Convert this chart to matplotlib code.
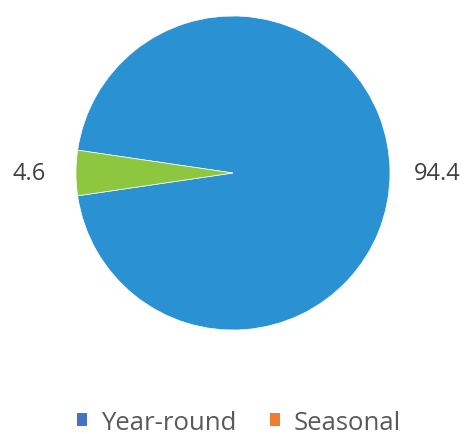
import matplotlib.pyplot as plt
from matplotlib.patches import Patch

# slice values (percent)
values = [94.4, 4.6]
slice_colors = ["#2A91D3", "#8DC63F"]
legend_labels = ["Year-round", "Seasonal"]
legend_colors = ["#4472C4", "#ED7D31"]

plt.rcParams['font.family'] = ['Open Sans', 'DejaVu Sans']

fig = plt.figure(figsize=(4.69, 4.35), dpi=100)
ax = fig.add_axes([0.162, 0.239, 0.6695, 0.722])

# center the big slice on the right so the small one sits on the left
start = -values[0] / sum(values) * 360 / 2
wedges, texts = ax.pie(values, colors=slice_colors, startangle=start,
                       labels=[f"{v:.1f}" for v in values], labeldistance=1.3,
                       wedgeprops=dict(linewidth=0.5, edgecolor="white"),
                       textprops=dict(fontsize=17, color="#404040"))
for t in texts:
    t.set_horizontalalignment("center")
    t.set_verticalalignment("center")
ax.set_xlim(-1, 1)
ax.set_ylim(-1, 1)
ax.set_aspect("equal")

handles = [Patch(facecolor=c, edgecolor="none") for c in legend_colors]
fig.legend(handles, legend_labels, loc="center", bbox_to_anchor=(0.51, 0.027),
           ncol=2, frameon=False, fontsize=18.5, handlelength=0.38, handleheight=0.38,
           handletextpad=0.55, columnspacing=1.3, labelcolor="#595959")

fig.savefig("out.png", dpi=100)
